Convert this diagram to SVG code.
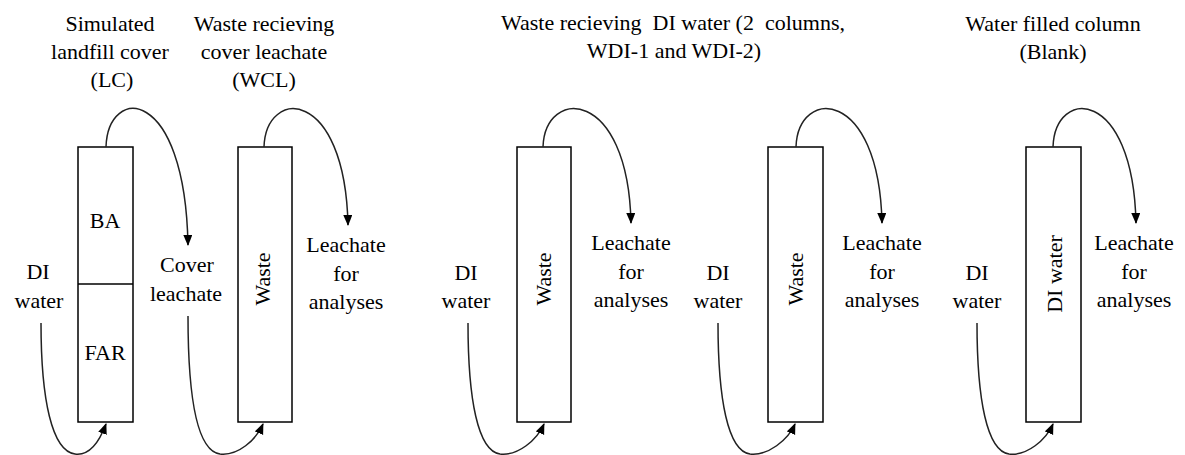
<svg xmlns="http://www.w3.org/2000/svg" width="1185" height="455" viewBox="0 0 1185 455" font-family="Liberation Serif, Times New Roman, serif">
<style>
text{font-size:22px;fill:#000;text-anchor:middle}
.col{fill:#fff;stroke:#000;stroke-width:1.5}
.con{fill:none;stroke:#222;stroke-width:1.5;marker-end:url(#ah)}
</style>
<defs>
<marker id="ah" markerWidth="11" markerHeight="10" refX="10" refY="4.5" orient="auto" markerUnits="userSpaceOnUse">
<path d="M0,0 L11,4.5 L0,9 z" fill="#000"/>
</marker>
</defs>
<rect width="1185" height="455" fill="#fff"/>
<g id="headings">
<text x="110" y="31">Simulated</text>
<text x="110" y="59">landfill cover</text>
<text x="112" y="87">(LC)</text>
<text x="264" y="31">Waste recieving</text>
<text x="264" y="59">cover leachate</text>
<text x="264" y="87">(WCL)</text>
<text x="673" y="30" xml:space="preserve" style="white-space:pre">Waste recieving  DI water (2  columns,</text>
<text x="674" y="58">WDI-1 and WDI-2)</text>
<text x="1053" y="31">Water filled column</text>
<text x="1053" y="59">(Blank)</text>
</g>
<g id="col-LC">
<rect class="col" x="78" y="147" width="55" height="275"/>
<line x1="78" y1="284" x2="133" y2="284" stroke="#000" stroke-width="1.5"/>
<text x="105" y="228">BA</text>
<text x="105" y="360">FAR</text>
</g>
<g id="col-WCL">
<rect class="col" x="238" y="147" width="54" height="275"/>
<text transform="translate(270,279) rotate(-90)">Waste</text>
</g>
<g id="col-WDI1">
<rect class="col" x="517" y="147" width="54" height="275"/>
<text transform="translate(551,279) rotate(-90)">Waste</text>
</g>
<g id="col-WDI2">
<rect class="col" x="768" y="147" width="55" height="275"/>
<text transform="translate(803,279) rotate(-90)">Waste</text>
</g>
<g id="col-blank">
<rect class="col" x="1026" y="147" width="55" height="275"/>
<text transform="translate(1062,274) rotate(-90)">DI water</text>
</g>
<g id="labels">
<text x="38" y="279">DI</text>
<text x="39" y="308">water</text>
<text x="187" y="272">Cover</text>
<text x="186" y="301">leachate</text>
<text x="346" y="252">Leachate</text>
<text x="346" y="281">for</text>
<text x="346" y="309">analyses</text>
<text x="466" y="280">DI</text>
<text x="466" y="308">water</text>
<text x="631" y="250">Leachate</text>
<text x="631" y="279">for</text>
<text x="631" y="307">analyses</text>
<text x="718" y="280">DI</text>
<text x="718" y="308">water</text>
<text x="882" y="250">Leachate</text>
<text x="882" y="279">for</text>
<text x="882" y="307">analyses</text>
<text x="977" y="280">DI</text>
<text x="977" y="308">water</text>
<text x="1134" y="250">Leachate</text>
<text x="1134" y="279">for</text>
<text x="1134" y="307">analyses</text>
</g>
<g id="connectors">
<path class="con" d="M106,147 C108,85 185,85 188,245"/>
<path class="con" d="M264,147 C266,87 345,87 348,225"/>
<path class="con" d="M543,147 C545,87 628,87 631,223"/>
<path class="con" d="M796,147 C798,87 879,87 882,223"/>
<path class="con" d="M1053,147 C1055,87 1133,87 1136,223"/>
<path class="con" d="M41,323 C41,400 52,451 75,454 C90,456 100,440 106,424"/>
<path class="con" d="M188,316 C188,400 198,451 220,454 C238,456 256,440 263,424"/>
<path class="con" d="M468,323 C468,400 478,451 500,454 C518,456 537,440 544,424"/>
<path class="con" d="M718,323 C718,400 728,451 750,454 C768,456 788,440 795,424"/>
<path class="con" d="M977,323 C977,400 987,451 1009,454 C1027,456 1046,440 1053,424"/>
</g>
</svg>
